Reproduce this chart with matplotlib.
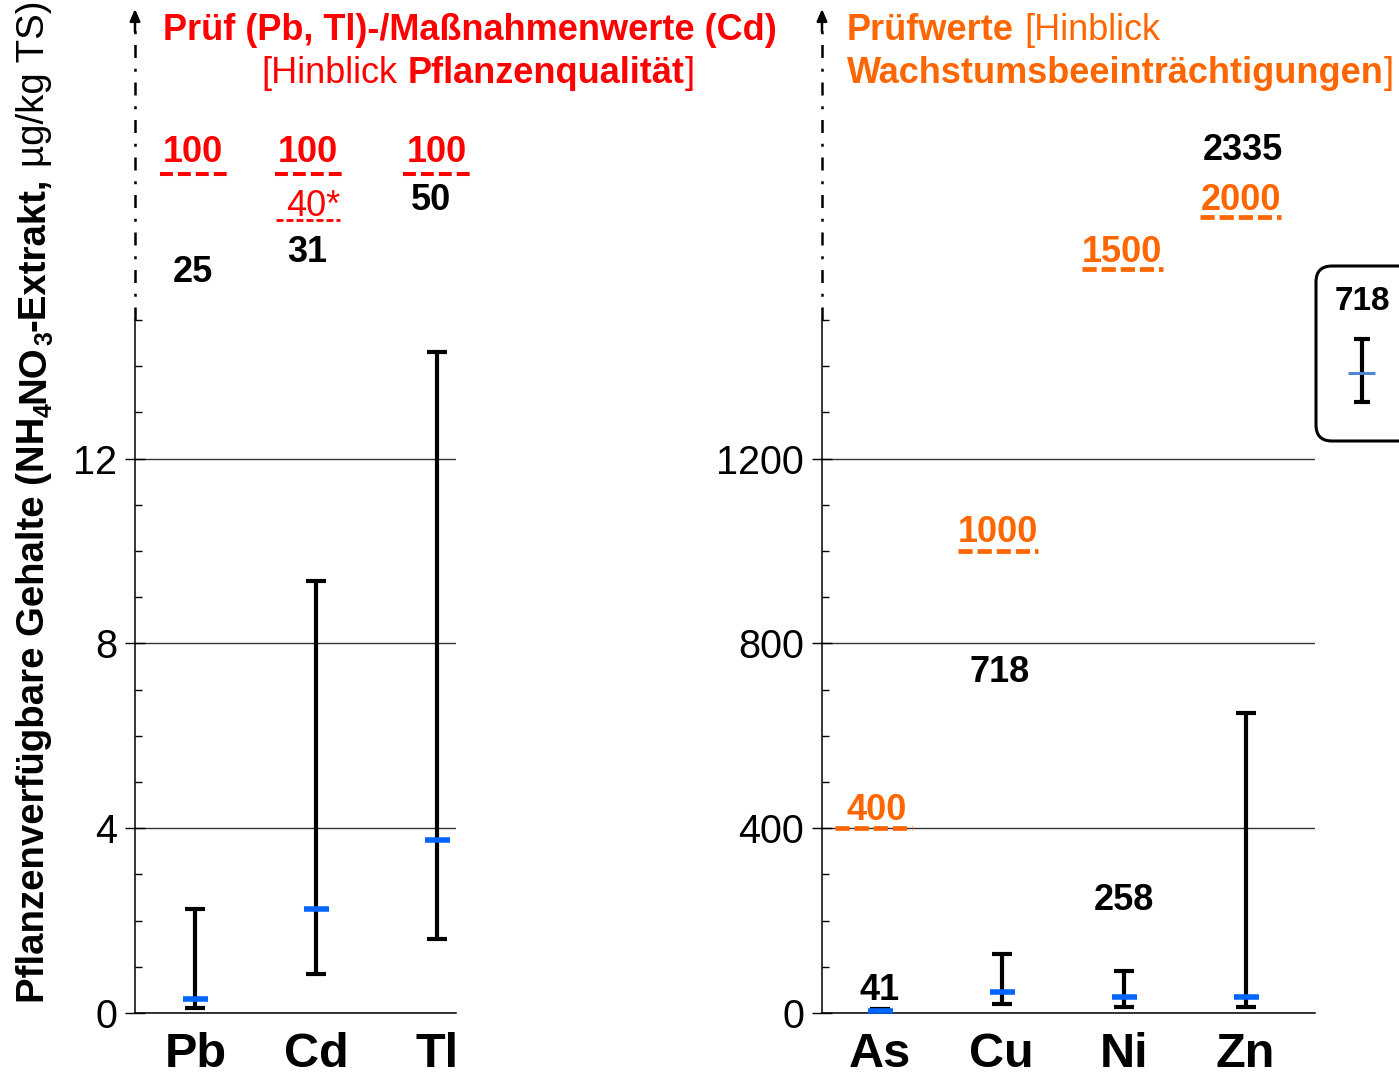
import matplotlib
matplotlib.use('Agg')
import matplotlib.pyplot as plt
from matplotlib import transforms
from matplotlib.patches import FancyBboxPatch
from matplotlib.lines import Line2D
import numpy as np

W, H, DPI = 1399, 1082, 100
plt.rcParams['font.family'] = ['Liberation Sans', 'DejaVu Sans']

# ---------------- data ----------------
left_cats = ['Pb', 'Cd', 'Tl']
left_median = [0.3, 2.25, 3.75]
left_low = [0.1, 0.85, 1.6]
left_high = [2.25, 9.35, 14.3]
left_max = [25, 31, 50]
left_thresh = [100, 100, 100]
cd_action = '40*'

right_cats = ['As', 'Cu', 'Ni', 'Zn']
right_median = [5, 45, 35, 35]
right_low = [2, 20, 14, 12]
right_high = [9, 128, 90, 650]
right_max = [41, 718, 258, 2335]
right_thresh = [400, 1000, 1500, 2000]

left_yticks = [0, 4, 8, 12]
right_yticks = [0, 400, 800, 1200]
legend_value = 718

RED = '#ff0000'
ORANGE = '#ff6600'
BLUE = '#0066ff'

# ---------------- layout ----------------
fig = plt.figure(figsize=(W / DPI, H / DPI), dpi=DPI)
R = fig.canvas.get_renderer()
PX = transforms.Affine2D().scale(1 / W, -1 / H).translate(0, 1) + fig.transFigure


def fbox(x0, y0, x1, y1):
    return [x0 / W, 1 - y1 / H, (x1 - x0) / W, (y1 - y0) / H]


axL = fig.add_axes(fbox(135, 320, 456, 1013))
axR = fig.add_axes(fbox(822, 320, 1315, 1013))


def style(ax, ymax, minor, ticks, cats, xlim):
    ax.set_xlim(*xlim)
    ax.set_ylim(0, ymax)
    ax.set_yticks(ticks)
    ax.set_yticklabels([str(t) for t in ticks])
    ax.set_yticks(np.arange(0, ymax + minor / 2, minor), minor=True)
    ax.set_xticks(range(len(cats)))
    ax.set_xticklabels(cats, fontsize=35, fontweight='bold')
    ax.tick_params(axis='x', length=0, pad=14)
    ax.tick_params(axis='y', which='major', direction='inout', length=14,
                   width=1, labelsize=28.5, pad=6)
    ax.tick_params(axis='y', which='minor', direction='in', length=5, width=1)
    for s in ['top', 'right']:
        ax.spines[s].set_visible(False)
    ax.spines['left'].set_linewidth(1.1)
    ax.spines['bottom'].set_linewidth(1.1)
    ax.yaxis.grid(True, which='major', color='#333333', lw=1.0)
    ax.set_axisbelow(True)


style(axL, 15, 1, left_yticks, left_cats, (-0.5, 2.16))
style(axR, 1500, 100, right_yticks, right_cats, (-0.475, 3.57))


def draw_series(ax, med, lo, hi):
    x = np.arange(len(med))
    med = np.array(med, float)
    lo = np.array(lo, float)
    hi = np.array(hi, float)
    ax.errorbar(x, med, yerr=[med - lo, hi - med], fmt='none', ecolor='black',
                elinewidth=3, capsize=7, capthick=3, zorder=3)
    ax.plot(x, med, linestyle='none', marker='_', ms=18, mew=4, color=BLUE,
            zorder=4)


draw_series(axL, left_median, left_low, left_high)
draw_series(axR, right_median, right_low, right_high)


# ---------------- helpers ----------------
def blend(ax):
    return transforms.blended_transform_factory(ax.transData, PX)


def label(ax, x, ypx, s, color='black', weight='bold', size=26):
    ax.text(x, ypx, s, transform=blend(ax), ha='center', va='center',
            color=color, fontsize=size, fontweight=weight, clip_on=False,
            zorder=5)


def underline(ax, x0, x1, ypx, color, lw=2.9, dash=(3.2, 1.25), tr=None):
    ax.plot([x0, x1], [ypx, ypx], color=color, lw=lw,
            linestyle=(0, dash), transform=tr if tr is not None else blend(ax),
            clip_on=False, solid_capstyle='butt', dash_capstyle='butt',
            zorder=5)


# ---------------- left annotations ----------------
thr_dx = [-0.02, -0.07, 0.0]
ul_L = [(-0.29, 0.29), (0.66, 1.25), (1.72, 2.31)]
for i, v in enumerate(left_thresh):
    label(axL, i + thr_dx[i], 152, str(v), color=RED)
    underline(axL, ul_L[i][0], ul_L[i][1], 174, RED)
label(axL, 0.98, 206, cd_action, color=RED, weight='normal')
underline(axL, 0.67, 1.20, 220, RED, lw=2.0, dash=(2.5, 1.1))
max_pos_L = [(-0.02, 272), (0.93, 252), (1.95, 200)]
for v, (x, y) in zip(left_max, max_pos_L):
    label(axL, x, y, str(v))

# ---------------- right annotations ----------------
thr_pos_R = [(-0.03, 810), (0.97, 532), (1.99, 252), (2.96, 200)]
ul_pos_R = [(-0.37, 0.26, 828), (0.64, 1.30, 549), (1.66, 2.32, 269),
            (2.63, 3.29, 217)]
for v, (x, y), (u0, u1, uy) in zip(right_thresh, thr_pos_R, ul_pos_R):
    label(axR, x, y, str(v), color=ORANGE)
    if v in (400, 1000):
        underline(axR, u0, u1, v, ORANGE, lw=3.4, dash=(3.0, 1.05),
                  tr=axR.transData)
    else:
        underline(axR, u0, u1, uy, ORANGE, lw=3.4, dash=(3.0, 1.05))
max_pos_R = [(0.0, 991), (0.98, 672), (2.0, 900), (2.98, 150)]
for v, (x, y) in zip(right_max, max_pos_R):
    label(axR, x, y, str(v))

# ---------------- axis-break arrows ----------------
for ax in (axL, axR):
    tr = transforms.blended_transform_factory(ax.transAxes, PX)
    ax.plot([0, 0], [320, 24], transform=tr, color='black', lw=1.8,
            linestyle=(0, (5.2, 4.3, 1.2, 4.3)), clip_on=False)
    ax.annotate('', xy=(0, 9), xycoords=tr, xytext=(0, 32), textcoords=tr,
                arrowprops=dict(arrowstyle='-|>,head_length=0.5,head_width=0.22',
                                lw=1.8, color='black', mutation_scale=14,
                                shrinkA=0, shrinkB=0),
                annotation_clip=False)


# ---------------- mixed-weight text ----------------
def text_w(s, size, weight):
    t = fig.text(0, 0, s, fontsize=size, fontweight=weight)
    w = t.get_window_extent(R).width
    t.remove()
    return w


def tok_w(s, size, weight):
    if s == ' ':
        return text_w('a a', size, weight) - text_w('aa', size, weight)
    return text_w(s, size, weight)


def draw_runs(runs, x, ybase, size, color, ha='left'):
    ws = [tok_w(s, size, wt) for s, wt in runs]
    pos = x - sum(ws) / 2 if ha == 'center' else x
    for (s, wt), w in zip(runs, ws):
        if s != ' ':
            fig.text(pos, ybase, s, transform=PX, fontsize=size,
                     fontweight=wt, color=color, ha='left', va='baseline')
        pos += w


TS = 26
draw_runs([('Prüf (Pb, Tl)-/Maßnahmenwerte (Cd)', 'bold')], 470, 40, TS, RED,
          ha='center')
draw_runs([('[Hinblick', 'normal'), (' ', 'normal'),
           ('Pflanzenqualität', 'bold'), (']', 'normal')], 478, 83, TS, RED,
          ha='center')
draw_runs([('Prüfwerte', 'bold'), (' ', 'normal'), ('[Hinblick', 'normal')],
          847, 40, TS, ORANGE)
draw_runs([('Wachstumsbeeinträchtigungen', 'bold'), (']', 'normal')],
          847, 83, TS, ORANGE)

# ---------------- y label (rotated, with subscripts) ----------------
YS = 27.6
ylab = [('Pflanzenverfügbare Gehalte (NH', 'bold', 1.0, 0),
        ('4', 'bold', 0.65, 1), ('NO', 'bold', 1.0, 0),
        ('3', 'bold', 0.65, 1), ('-Extrakt,', 'bold', 1.0, 0),
        (' ', 'bold', 1.0, 0), ('µg/kg TS)', 'normal', 1.0, 0)]
ws = [tok_w(s, YS * f, wt) for s, wt, f, sub in ylab]
ypos = 1003
xb = 44
for (s, wt, f, sub), w in zip(ylab, ws):
    if s != ' ':
        fig.text(xb + sub * 8, ypos, s, transform=PX, fontsize=YS * f,
                 fontweight=wt, color='black', rotation=90,
                 rotation_mode='anchor', ha='left', va='baseline')
    ypos -= w

# ---------------- legend box ----------------
box = FancyBboxPatch((1316, 266), 140, 175, boxstyle='round,pad=0,rounding_size=16',
                     transform=PX, fill=False, lw=2.2, ec='black',
                     clip_on=False)
fig.patches.append(box)
fig.text(1362, 301, str(legend_value), transform=PX, ha='center', va='center',
         fontsize=24, fontweight='bold')
for xs, ys, c, lw in [([1362, 1362], [338, 403], 'black', 3),
                      ([1354, 1370], [339, 339], 'black', 3),
                      ([1354, 1370], [402, 402], 'black', 3),
                      ([1348, 1375], [373, 373], '#4f86d0', 2.2)]:
    fig.add_artist(Line2D(xs, ys, transform=PX, color=c, lw=lw,
                          solid_capstyle='butt'))

fig.savefig('out.png', dpi=DPI)
